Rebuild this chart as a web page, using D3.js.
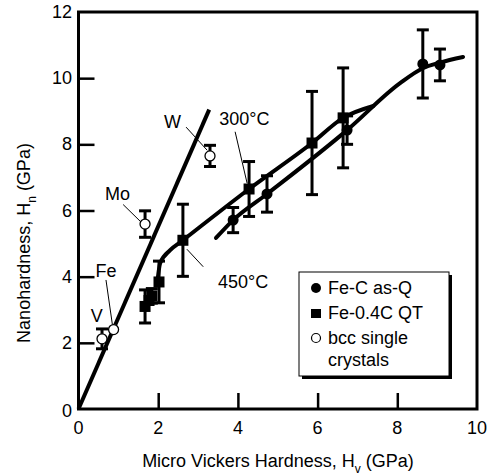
<!DOCTYPE html>
<html>
<head>
<meta charset="utf-8">
<script src="https://cdn.jsdelivr.net/npm/d3@7"></script>
<style>
  html, body { margin: 0; padding: 0; background: #fff; }
  svg text { font-family: "Liberation Sans", Arial, Helvetica, sans-serif; fill: #000; }
</style>
</head>
<body>
<svg id="chart" width="489" height="475"></svg>
<script>
// ---------- data ----------
const xTicks = [0, 2, 4, 6, 8, 10];
const yTicks = [0, 2, 4, 6, 8, 10, 12];

// Fe-C as-Q (filled circles)
const feC_x   = [3.88, 4.73, 6.74, 8.64, 9.07];
const feC_y   = [5.71, 6.50, 8.43, 10.43, 10.40];
const feC_err = [0.38, 0.55, 0.43, 1.03, 0.48];

// Fe-0.4C QT (filled squares)
const feQT_x   = [1.67, 1.77, 1.84, 2.02, 2.62, 4.28, 5.86, 6.64];
const feQT_y   = [3.10, 3.28, 3.42, 3.84, 5.10, 6.65, 8.04, 8.80];
const feQT_err = [0.50, 0.00, 0.22, 0.63, 1.09, 0.83, 1.56, 1.51];

// bcc single crystals (open circles)
const bcc_label = ["V", "Fe", "Mo", "W"];
const bcc_x   = [0.59, 0.88, 1.67, 3.30];
const bcc_y   = [2.12, 2.40, 5.59, 7.65];
const bcc_err = [0.30, 0.00, 0.40, 0.32];

// straight line through origin (bcc trend)
const bccLine_x = [0, 3.28];
const bccLine_y = [0, 9.05];

// fitted curve, Fe-0.4C QT
const qtCurve_x = [1.97, 2.05, 2.30, 2.62, 4.28, 5.86, 6.64, 7.40];
const qtCurve_y = [3.75, 4.41, 4.80, 5.10, 6.65, 8.04, 8.80, 9.16];

// fitted curve, Fe-C as-Q
const asqCurve_x = [3.45, 3.88, 4.73, 6.74, 8.07, 8.64, 9.07, 9.65];
const asqCurve_y = [5.17, 5.71, 6.50, 8.43, 9.85, 10.30, 10.47, 10.64];

// annotations: label, label position, leader start, leader end (data units)
const ann_text = ["W", "Mo", "Fe", "V", "300°C", "450°C"];
const ann_tx   = [2.36, 0.98, 0.69, 0.46, 4.16, 4.13];
const ann_ty   = [8.68, 6.50, 4.16, 2.80, 8.78, 3.84];
const ann_x1   = [2.70, 1.12, 0.69, null, 3.93, 2.72];
const ann_y1   = [8.52, 6.18, 3.90, null, 8.38, 4.83];
const ann_x2   = [3.23, 1.57, 0.86, null, 4.23, 3.13];
const ann_y2   = [7.82, 5.65, 2.47, null, 6.83, 4.30];

// legend
const legend_labels = ["Fe-C as-Q", "Fe-0.4C QT", "bcc single"];

// ---------- chart ----------
const svg = d3.select("#chart");
const x = d3.scaleLinear().domain([0, 10]).range([78.5, 477]);
const y = d3.scaleLinear().domain([0, 12]).range([409, 12]);

// frame
svg.append("rect")
  .attr("x", x(0)).attr("y", y(12))
  .attr("width", x(10) - x(0)).attr("height", y(0) - y(12))
  .attr("fill", "none").attr("stroke", "#000").attr("stroke-width", 3);

// inward ticks
const tickLen = 16;
const xAxis = d3.axisTop(x).tickValues(xTicks.slice(1, -1)).tickSize(tickLen).tickFormat("");
svg.append("g").attr("transform", `translate(0,${y(0)})`).call(xAxis)
  .call(g => g.select(".domain").remove())
  .call(g => g.selectAll("line").attr("stroke-width", 2.5));
const yAxis = d3.axisRight(y).tickValues(yTicks.slice(1, -1)).tickSize(tickLen).tickFormat("");
svg.append("g").attr("transform", `translate(${x(0)},0)`).call(yAxis)
  .call(g => g.select(".domain").remove())
  .call(g => g.selectAll("line").attr("stroke-width", 2.5));

// tick labels
svg.append("g").selectAll("text").data(xTicks).join("text")
  .attr("x", d => x(d)).attr("y", 434)
  .attr("text-anchor", "middle").attr("font-size", 18)
  .text(d => d);
svg.append("g").selectAll("text").data(yTicks).join("text")
  .attr("x", 72).attr("y", d => y(d) + 6 + (d === 0 ? 2 : 0))
  .attr("text-anchor", "end").attr("font-size", 18)
  .text(d => d);

// axis titles
const xt = svg.append("text").attr("x", 278).attr("y", 467)
  .attr("text-anchor", "middle").attr("font-size", 18);
xt.append("tspan").text("Micro Vickers Hardness, H");
xt.append("tspan").attr("font-size", 12).attr("dy", 6).text("v");
xt.append("tspan").attr("dy", -6).text(" (GPa)");

const yt = svg.append("text").attr("transform", "translate(30,243) rotate(-90)")
  .attr("text-anchor", "middle").attr("font-size", 18);
yt.append("tspan").text("Nanohardness, H");
yt.append("tspan").attr("font-size", 12).attr("dy", 6).text("n");
yt.append("tspan").attr("dy", -6).text(" (GPa)");

// lines
const line = d3.line().x(d => x(d[0])).y(d => y(d[1]));
svg.append("path").datum(bccLine_x.map((v, i) => [v, bccLine_y[i]]))
  .attr("d", line).attr("fill", "none").attr("stroke", "#000").attr("stroke-width", 4);
const curve = d3.line().x(d => x(d[0])).y(d => y(d[1])).curve(d3.curveMonotoneX);
svg.append("path").datum(qtCurve_x.map((v, i) => [v, qtCurve_y[i]]))
  .attr("d", curve).attr("fill", "none").attr("stroke", "#000").attr("stroke-width", 4)
  .attr("stroke-linecap", "round");
svg.append("path").datum(asqCurve_x.map((v, i) => [v, asqCurve_y[i]]))
  .attr("d", curve).attr("fill", "none").attr("stroke", "#000").attr("stroke-width", 4)
  .attr("stroke-linecap", "round");

// annotations
ann_text.forEach((t, i) => {
  svg.append("text").attr("x", x(ann_tx[i])).attr("y", y(ann_ty[i]))
    .attr("text-anchor", "middle").attr("dominant-baseline", "central")
    .attr("font-size", 18).text(t);
  if (ann_x1[i] !== null) {
    svg.append("line")
      .attr("x1", x(ann_x1[i])).attr("y1", y(ann_y1[i]))
      .attr("x2", x(ann_x2[i])).attr("y2", y(ann_y2[i]))
      .attr("stroke", "#000").attr("stroke-width", 1);
  }
});

// error bars helper
function errorBars(xs, ys, es) {
  const g = svg.append("g").attr("stroke", "#000").attr("stroke-width", 3);
  xs.forEach((xv, i) => {
    if (!es[i]) return;
    const cx = x(xv), t = y(ys[i] + es[i]), b = y(ys[i] - es[i]);
    g.append("line").attr("x1", cx).attr("x2", cx).attr("y1", t).attr("y2", b);
    g.append("line").attr("x1", cx - 6).attr("x2", cx + 6).attr("y1", t).attr("y2", t);
    g.append("line").attr("x1", cx - 6).attr("x2", cx + 6).attr("y1", b).attr("y2", b);
  });
}
errorBars(feQT_x, feQT_y, feQT_err);
errorBars(feC_x, feC_y, feC_err);
errorBars(bcc_x, bcc_y, bcc_err);

// markers
svg.append("g").selectAll("rect").data(feQT_x).join("rect")
  .attr("x", (d) => x(d) - 5.5).attr("y", (d, i) => y(feQT_y[i]) - 5.5)
  .attr("width", 11).attr("height", 11).attr("fill", "#000");
svg.append("g").selectAll("circle").data(feC_x).join("circle")
  .attr("cx", d => x(d)).attr("cy", (d, i) => y(feC_y[i])).attr("r", 5.5).attr("fill", "#000");
svg.append("g").selectAll("circle").data(bcc_x).join("circle")
  .attr("cx", d => x(d)).attr("cy", (d, i) => y(bcc_y[i])).attr("r", 5)
  .attr("fill", "#fff").attr("stroke", "#000").attr("stroke-width", 1.3);

// legend
const lg = svg.append("g").attr("transform", "translate(299,272)");
lg.append("rect").attr("x", 3).attr("y", 3).attr("width", 150).attr("height", 104).attr("fill", "#000");
lg.append("rect").attr("x", 0).attr("y", 0).attr("width", 150).attr("height", 104)
  .attr("fill", "#fff").attr("stroke", "#000").attr("stroke-width", 1);
lg.append("circle").attr("cx", 17).attr("cy", 16).attr("r", 5).attr("fill", "#000");
lg.append("rect").attr("x", 12).attr("y", 37).attr("width", 10).attr("height", 9).attr("fill", "#000");
lg.append("circle").attr("cx", 17).attr("cy", 66).attr("r", 4.5).attr("fill", "#fff")
  .attr("stroke", "#000").attr("stroke-width", 1.2);
legend_labels.forEach((t, i) => {
  lg.append("text").attr("x", 29).attr("y", 22 + i * 25).attr("font-size", 18).text(t);
});
lg.append("text").attr("x", 29).attr("y", 94).attr("font-size", 18).text("crystals");
</script>
</body>
</html>
